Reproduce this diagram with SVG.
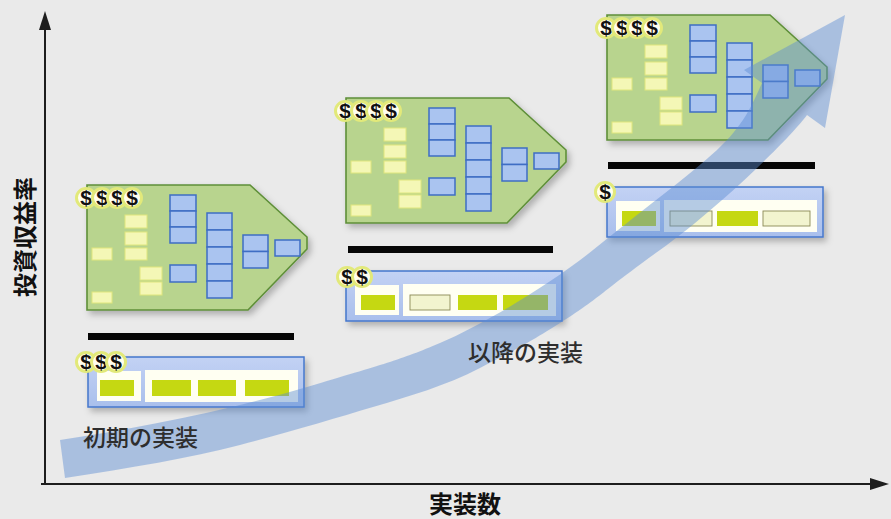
<svg xmlns="http://www.w3.org/2000/svg" width="891" height="519" viewBox="0 0 891 519">
<defs>
<style>
  .board{fill:#b8d48e;stroke:#5e8f38;stroke-width:1.6}
  .ycell{fill:#f4f7b6;stroke:#dfe67c;stroke-width:1}
  .bcell{fill:#aac4f0;stroke:#3e6dc4;stroke-width:1.5}
  .coin circle{fill:#fffef0;stroke:#e2e97a;stroke-width:3}
  .coin text{font-family:"Liberation Sans",sans-serif;font-size:21px;font-weight:bold;fill:#111;text-anchor:middle}
  .bar{fill:#060606}
  .impl{fill:url(#implFill);stroke:#4677cc;stroke-width:1.5}
  .panel{fill:#fffff2}
  .chip{fill:#c5d812}
  .chip-open{fill:#f2f4cf;stroke:#8b8955;stroke-width:0.9}
  .label{font-family:"Noto Sans CJK JP",sans-serif;font-size:23px;font-weight:500;fill:#2e2e2e}
  .axis-label{font-family:"Noto Sans CJK JP",sans-serif;font-size:24px;font-weight:bold;fill:#111}
  .axis{stroke:#1e1e1e;stroke-width:2;fill:none}
  .trend{fill:#5a8cd2;fill-opacity:0.45}
</style>
<filter id="shadow" x="-10%" y="-10%" width="130%" height="140%">
  <feDropShadow dx="3" dy="4" stdDeviation="3" flood-color="#000" flood-opacity="0.25"/>
</filter>
<linearGradient id="implFill" x1="0" y1="0" x2="0" y2="1">
  <stop offset="0" stop-color="#c3d2f4"/>
  <stop offset="1" stop-color="#a9bfec"/>
</linearGradient>
<g id="coin" class="coin">
  <circle r="9.5"/>
  <text y="7">$</text>
</g>
<!-- circuit board: origin at top-left corner -->
<g id="board-tpl">
  <polygon class="board" filter="url(#shadow)" points="0,0 163,0 220,52 220,64 161,125 0,125"/>
  <rect class="ycell" x="38" y="30" width="22" height="13"/>
  <rect class="ycell" x="38" y="47" width="22" height="13"/>
  <rect class="ycell" x="38" y="63" width="22" height="12"/>
  <rect class="ycell" x="5" y="63" width="20" height="12"/>
  <rect class="ycell" x="53" y="82" width="22" height="13"/>
  <rect class="ycell" x="53" y="97" width="22" height="13"/>
  <rect class="ycell" x="5" y="107" width="20" height="11"/>
  <rect class="bcell" x="83" y="10" width="26" height="16"/>
  <rect class="bcell" x="83" y="26" width="26" height="16"/>
  <rect class="bcell" x="83" y="42" width="26" height="16"/>
  <rect class="bcell" x="83" y="80" width="26" height="17"/>
  <rect class="bcell" x="120" y="28" width="25" height="17"/>
  <rect class="bcell" x="120" y="45" width="25" height="17"/>
  <rect class="bcell" x="120" y="62" width="25" height="17"/>
  <rect class="bcell" x="120" y="79" width="25" height="17"/>
  <rect class="bcell" x="120" y="96" width="25" height="17"/>
  <rect class="bcell" x="156" y="50" width="25" height="16.5"/>
  <rect class="bcell" x="156" y="66.5" width="25" height="16.5"/>
  <rect class="bcell" x="188" y="55" width="25" height="16"/>
  <use href="#coin" x="-1" y="13"/>
  <use href="#coin" x="15" y="13"/>
  <use href="#coin" x="30" y="13"/>
  <use href="#coin" x="45" y="13"/>
</g>
<!-- implementation strip frame: origin at top-left corner -->
<g id="impl-tpl">
  <rect class="impl" filter="url(#shadow)" x="0" y="0" width="216" height="50"/>
  <rect class="panel" x="9" y="14" width="44" height="30"/>
  <rect class="panel" x="57" y="13" width="153" height="32"/>
</g>
</defs>

<rect width="891" height="519" fill="#eaeaea"/>

<g id="axes">
  <line class="axis" x1="45" y1="26" x2="45" y2="485"/>
  <polygon points="45,11 39,30 51,30" fill="#1e1e1e"/>
  <line class="axis" x1="41" y1="484" x2="874" y2="484"/>
  <polygon points="889,484 870,478 870,490" fill="#1e1e1e"/>
</g>

<g id="board-1"><use href="#board-tpl" transform="translate(87,185)"/></g>
<g id="board-2"><use href="#board-tpl" transform="translate(346,98)"/></g>
<g id="board-3"><use href="#board-tpl" transform="translate(607,15)"/></g>

<g id="divider-1"><rect class="bar" x="88" y="333" width="206" height="7"/></g>
<g id="divider-2"><rect class="bar" x="348" y="246" width="205" height="7"/></g>
<g id="divider-3"><rect class="bar" x="608" y="162" width="207" height="7"/></g>

<g id="impl-1" transform="translate(88,357)">
  <use href="#impl-tpl"/>
  <rect class="chip" x="12" y="23" width="34" height="16"/>
  <rect class="chip" x="64" y="23" width="39" height="16"/>
  <rect class="chip" x="110" y="23" width="38" height="16"/>
  <rect class="chip" x="157" y="23" width="44" height="16"/>
  <use href="#coin" x="-2" y="5"/>
  <use href="#coin" x="13" y="5"/>
  <use href="#coin" x="28" y="5"/>
</g>

<g id="impl-2" transform="translate(346,271)">
  <use href="#impl-tpl"/>
  <rect class="chip" x="15" y="24" width="34" height="15"/>
  <rect class="chip-open" x="64" y="24" width="40" height="15"/>
  <rect class="chip" x="112" y="24" width="39" height="15"/>
  <rect class="chip" x="157" y="24" width="45" height="15"/>
  <use href="#coin" x="1" y="6"/>
  <use href="#coin" x="16" y="6"/>
</g>

<g id="impl-3" transform="translate(607,187)">
  <use href="#impl-tpl"/>
  <rect class="chip" x="15" y="24" width="34" height="15"/>
  <rect class="chip-open" x="63" y="24" width="42" height="15"/>
  <rect class="chip" x="110" y="24" width="41" height="15"/>
  <rect class="chip-open" x="156" y="24" width="47" height="15"/>
  <use href="#coin" x="-2" y="5"/>
</g>

<g id="connectors">
  <path class="trend" d="M60,440 C140,428 230,410 307,387 S400,360 440,343 S550,285 593,250 S690,175 717,150 S752,105 762,83 L744,70 L845,15 L825,128 L807,115 C790,138 720,207 660,250 S600,298 560,323 S515,350 480,368 S410,396 373,407 S290,432 240,445 S130,468 65,478 Z"/>
</g>

<g id="labels">
  <text class="label" x="83" y="446">初期の実装</text>
  <text class="label" x="468" y="361">以降の実装</text>
  <text class="axis-label" x="465" y="513" text-anchor="middle">実装数</text>
  <text class="axis-label" transform="translate(25,237) rotate(-90)" y="9" text-anchor="middle">投資収益率</text>
</g>
</svg>
